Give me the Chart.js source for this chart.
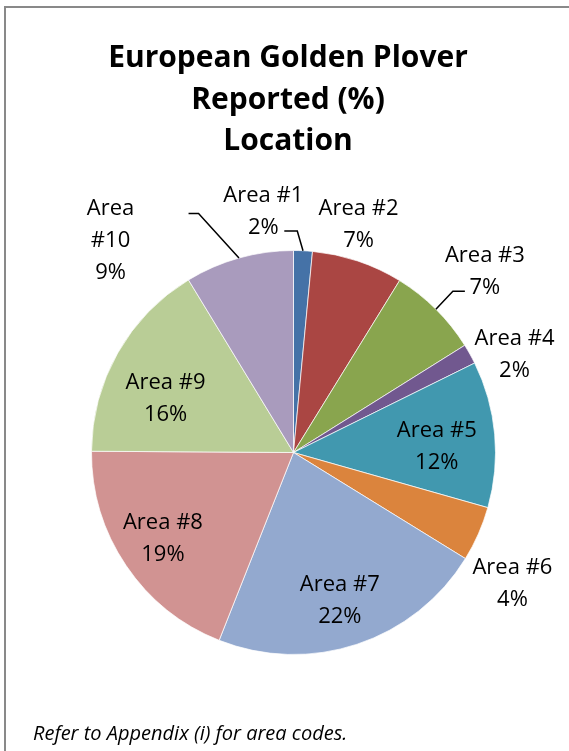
<!DOCTYPE html>
<html>
<head>
<meta charset="utf-8">
<script src="https://cdn.jsdelivr.net/npm/chart.js@4"></script>
<style>
  html, body { margin: 0; padding: 0; background: #fff; }
  #wrap { position: relative; width: 569px; height: 751px; overflow: hidden; background: #fff; }
  #frame { position: absolute; left: 4px; top: 6px; width: 800px; height: 900px; border: 2px solid #898989; }
  #chart { position: absolute; left: 0; top: 0; }
  #title {
    position: absolute; left: 0; top: 35px; width: 576px; text-align: center;
    font-family: 'Open Sans', sans-serif; font-weight: bold; font-size: 30px; line-height: 41.5px; color: #000;
  }
  #note {
    position: absolute; left: 33px; top: 723px;
    font-family: 'Open Sans', sans-serif; font-style: italic; font-size: 20px; line-height: 20px; color: #000;
  }
</style>
</head>
<body>
<div id="wrap">
  <div id="frame"></div>
  <canvas id="chart" width="569" height="751"></canvas>
  <div id="title">European Golden Plover<br>Reported (%)<br>Location</div>
  <div id="note">Refer to Appendix (i) for area codes.</div>
</div>
<script>
const areas = ['Area #1', 'Area #2', 'Area #3', 'Area #4', 'Area #5', 'Area #6', 'Area #7', 'Area #8', 'Area #9', 'Area #10'];
const reported = [1.5, 7.3, 7.3, 1.6, 11.7, 4.4, 22.2, 19.1, 16.2, 8.7];
const colors = ['#4572A7', '#AA4643', '#89A54E', '#71588F', '#4198AF', '#DB843D', '#93A9CF', '#D19392', '#B9CD96', '#A99BBD'];

// label placement: distance from centre (x radius), angle shift from slice middle (deg)
const labelDist = [1.21, 1.18, 1.31, 1.20, 0.71, 1.26, 0.76, 0.77, 0.69, 1.39];
const labelShift = [-9.8, -2.7, 1.5, 4.9, 2.2, 6.9, 0.8, 1.1, -6.1, -25];
// leader lines: end point relative to label centre, and elbow length
const leaders = { 0: [21, 21, 13], 2: [-20, 21.5, -12], 9: [78, -26, 10] };

const pieLabels = {
  id: 'pieLabels',
  afterDraw(chart) {
    const ctx = chart.ctx;
    const meta = chart.getDatasetMeta(0);
    const fs = 22, lh = 32;
    ctx.save();
    ctx.font = fs + 'px "Open Sans", sans-serif';
    ctx.fillStyle = '#000';
    ctx.textAlign = 'center';
    ctx.textBaseline = 'alphabetic';
    meta.data.forEach((arc, i) => {
      const { x, y, startAngle, endAngle, outerRadius } = arc.getProps(['x', 'y', 'startAngle', 'endAngle', 'outerRadius'], true);
      const mid = (startAngle + endAngle) / 2;
      const a = mid + labelShift[i] * Math.PI / 180;
      const lx = x + Math.cos(a) * outerRadius * labelDist[i];
      const ly = y + Math.sin(a) * outerRadius * labelDist[i];
      const lines = i === 9 ? areas[i].split(' ') : [areas[i]];
      lines.push(Math.round(reported[i]) + '%');
      const top = ly - (lines.length - 1) * lh / 2;
      lines.forEach((t, k) => ctx.fillText(t, lx, top + k * lh + fs * 0.357));

      if (leaders[i]) {
        const [dx, dy, el] = leaders[i];
        ctx.beginPath();
        ctx.strokeStyle = '#000';
        ctx.lineWidth = 1.5;
        ctx.moveTo(x + Math.cos(mid) * outerRadius, y + Math.sin(mid) * outerRadius);
        ctx.lineTo(lx + dx + el, ly + dy);
        ctx.lineTo(lx + dx, ly + dy);
        ctx.stroke();
      }
    });
    ctx.restore();
  }
};

new Chart(document.getElementById('chart'), {
  type: 'pie',
  data: {
    labels: areas,
    datasets: [{ data: reported, backgroundColor: colors, borderColor: 'rgba(255,255,255,0.7)', borderWidth: 1 }]
  },
  options: {
    responsive: false,
    animation: false,
    layout: { padding: { left: 91, right: 73, top: 250, bottom: 96 } },
    plugins: { legend: { display: false }, tooltip: { enabled: false } }
  },
  plugins: [pieLabels]
});
</script>
</body>
</html>
